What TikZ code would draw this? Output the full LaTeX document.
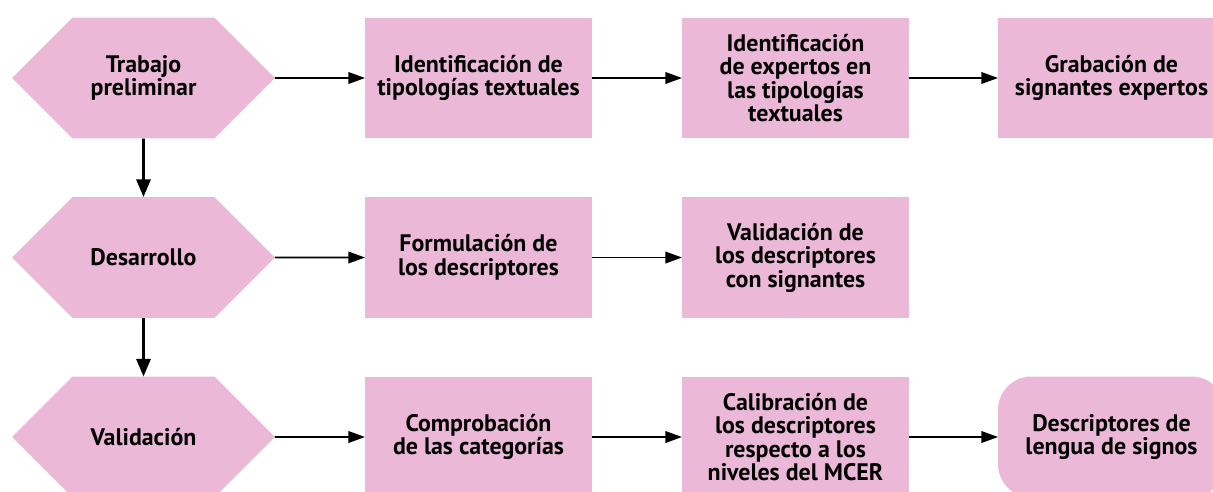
\documentclass[tikz,border=0pt]{standalone}
\usepackage{fontspec}
\setmainfont{PT Sans}
\usetikzlibrary{shapes.symbols,arrows.meta}
\definecolor{rosa}{RGB}{235,184,216}

\begin{document}
\begin{tikzpicture}[x=0.02cm, y=-0.02cm,
    texto/.style={align=center, font=\bfseries\fontsize{13.6}{13.4}\selectfont, outer sep=0pt},
    fase/.style={texto, signal, signal to=west and east, signal pointer angle=90,
        fill=rosa, minimum width=5.26cm, minimum height=2.42cm},
    paso/.style={texto, rectangle, fill=rosa, minimum width=4.54cm, minimum height=2.42cm},
    final/.style={paso, rounded corners=19pt},
    flecha/.style={-{Triangle[length=9.5pt, width=6.6pt]}, line width=1.1pt},
    baja/.style={-{Triangle[length=10pt, width=8pt]}, line width=1.6pt}]
    \useasboundingbox (0,0) rectangle (1213,491);

    % Phases (hexagons)
    \node[fase] (trabajo) at (143.5,78) {Trabajo\\preliminar};
    \node[fase] (desarrollo) at (143.5,257.5) {Desarrollo};
    \node[fase] (validacion) at (143.5,437) {Validación};

    % Row 1
    \node[paso] (tipologias) at (478.5,78) {Identificación de\\tipologías textuales};
    \node[paso] (expertos) at (795.5,78) {Identificación\\de expertos en\\las tipologías\\textuales};
    \node[paso] (grabacion) at (1111.5,78) {Grabación de\\signantes expertos};

    % Row 2
    \node[paso] (formulacion) at (478.5,257.5) {Formulación de\\los descriptores};
    \node[paso] (validdesc) at (795.5,257.5) {Validación de\\los descriptores\\con signantes};

    % Row 3
    \node[paso] (comprobacion) at (478.5,437) {Comprobación\\de las categorías};
    \node[paso] (calibracion) at (795.5,437) {Calibración de\\los descriptores\\respecto a los\\niveles del MCER};
    \node[final] (descriptores) at (1111.5,437) {Descriptores de\\lengua de signos};

    % Arrows
    \draw[baja] (trabajo) -- (desarrollo);
    \draw[baja] (desarrollo) -- (validacion);
    \draw[flecha] (trabajo) -- (tipologias);
    \draw[flecha] (tipologias) -- (expertos);
    \draw[flecha] (expertos) -- (grabacion);
    \draw[flecha] (desarrollo) -- (formulacion);
    \draw[flecha] (formulacion) -- (validdesc);
    \draw[flecha] (validacion) -- (comprobacion);
    \draw[flecha] (comprobacion) -- (calibracion);
    \draw[flecha] (calibracion) -- (descriptores);
\end{tikzpicture}
\end{document}
